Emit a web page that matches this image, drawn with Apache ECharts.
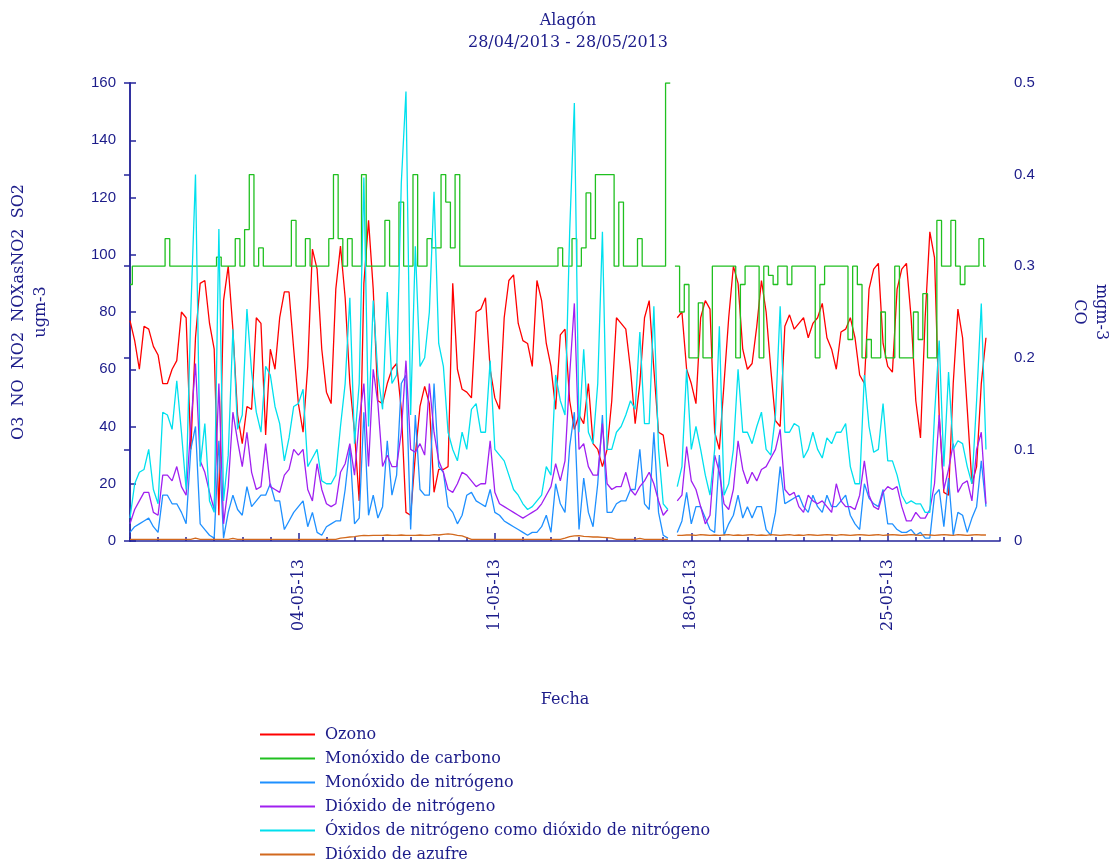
<!DOCTYPE html>
<html>
<head>
<meta charset="utf-8">
<script src="https://cdn.jsdelivr.net/npm/echarts@6/dist/echarts.min.js"></script>
<style>html,body{margin:0;padding:0;background:#fff;}#c{width:1120px;height:867px;}</style>
</head>
<body>
<div id="c"></div>
<script>
// Readings sampled every 4 hours starting 28-04-2013 00:00
const stepDays = 4 / 24;
const seriesNames = ['Ozono', 'Monóxido de carbono', 'Monóxido de nitrógeno', 'Dióxido de nitrógeno', 'Óxidos de nitrógeno como dióxido de nitrógeno', 'Dióxido de azufre'];
const xTickDays = [6, 13, 20, 27];
const xTickLabels = ['04-05-13', '11-05-13', '18-05-13', '25-05-13'];

const ozono = [
77,70,60,75,74,68, 65,55,55,60,63,80, 78,32,71,90,91,76, 67,9,84,96,74,44,
34,47,46,78,76,37, 67,60,78,87,87,67, 48,38,61,102,95,67, 52,48,88,103,85,55,
38,14,90,112,88,49, 48,55,60,62,46,10, 9,30,47,54,48,17, 25,25,26,90,60,53,
52,50,80,81,85,60, 50,46,78,91,93,76, 70,69,61,91,84,69, 61,46,72,74,49,39,
44,41,55,34,32,26, 32,49,78,76,74,60, 41,55,78,84,60,38, 37,26,null,78,80,60,
55,48,78,84,81,38, 32,55,78,96,90,67, 60,62,75,91,80,60, 42,40,75,79,74,76,
78,71,76,78,83,71, 67,60,73,74,78,71, 58,55,88,95,97,69, 61,59,88,95,97,78,
49,36,78,108,99,44, 17,16,55,81,71,46, 20,26,55,71
];
const co = [
0.28,0.3,0.3,0.3,0.3,0.3, 0.3,0.3,0.33,0.3,0.3,0.3, 0.3,0.3,0.3,0.3,0.3,0.3, 0.3,0.31,0.3,0.3,0.3,0.33,
0.3,0.34,0.4,0.3,0.32,0.3, 0.3,0.3,0.3,0.3,0.3,0.35, 0.3,0.3,0.33,0.3,0.3,0.3, 0.3,0.33,0.4,0.33,0.3,0.33,
0.3,0.3,0.4,0.3,0.3,0.3, 0.3,0.35,0.3,0.3,0.37,0.3, 0.3,0.4,0.3,0.3,0.33,0.32, 0.32,0.4,0.37,0.32,0.4,0.3,
0.3,0.3,0.3,0.3,0.3,0.3, 0.3,0.3,0.3,0.3,0.3,0.3, 0.3,0.3,0.3,0.3,0.3,0.3, 0.3,0.3,0.32,0.3,0.3,0.33,
0.3,0.32,0.38,0.33,0.4,0.4, 0.4,0.4,0.3,0.37,0.3,0.3, 0.3,0.33,0.3,0.3,0.3,0.3, 0.3,0.5,null,0.3,0.25,0.28,
0.2,0.2,0.26,0.2,0.2,0.3, 0.3,0.3,0.3,0.3,0.2,0.28, 0.3,0.3,0.3,0.2,0.3,0.29, 0.28,0.3,0.3,0.28,0.3,0.3,
0.3,0.3,0.3,0.2,0.28,0.3, 0.3,0.3,0.3,0.3,0.22,0.3, 0.28,0.2,0.22,0.2,0.2,0.25, 0.2,0.2,0.3,0.2,0.2,0.2,
0.25,0.22,0.27,0.2,0.2,0.35, 0.3,0.3,0.35,0.3,0.28,0.3, 0.3,0.3,0.33,0.3
];
const no = [
3,5,6,7,8,5, 3,16,16,13,13,10, 6,32,40,6,4,2, 1,35,1,10,16,11,
9,19,12,14,16,16, 20,14,14,4,7,10, 12,14,5,10,3,2, 5,6,7,7,18,33,
6,8,45,9,16,8, 12,35,16,23,55,58, 4,44,18,16,16,55, 26,24,12,10,6,9,
16,17,14,13,12,18, 10,9,7,6,5,4, 3,2,3,3,5,9, 3,20,13,10,33,45,
4,22,10,5,20,44, 10,10,13,14,14,18, 18,32,13,11,38,10, 2,1,null,3,7,17,
6,12,12,8,4,3, 30,2,6,9,16,8, 12,8,12,12,4,2, 10,26,13,14,15,16,
12,10,16,12,10,16, 12,12,14,16,9,6, 4,20,15,13,12,18, 6,6,4,3,3,4,
2,3,1,1,16,18, 5,22,2,10,9,3, 8,12,28,12
];
const no2 = [
6,11,14,17,17,10, 9,23,23,21,26,19, 16,40,62,28,24,17, 11,55,6,19,45,35,
26,38,24,18,19,34, 19,18,17,23,25,32, 30,32,18,14,27,18, 13,12,13,24,27,34,
23,42,55,26,60,48, 26,30,26,26,38,63, 32,31,34,30,55,38, 28,24,18,17,20,24,
23,21,19,20,20,35, 17,13,12,11,10,9, 8,9,10,11,13,16, 19,27,21,28,58,83,
32,34,26,23,23,41, 20,18,19,19,24,18, 16,19,21,24,20,14, 9,11,null,14,16,33,
21,18,12,6,9,30, 24,13,11,18,35,25, 20,24,21,25,26,29, 32,39,18,16,17,12,
10,16,14,13,14,12, 10,20,14,12,12,11, 16,28,16,12,11,17, 19,18,19,12,7,7,
10,8,8,11,20,44, 18,25,34,17,20,21, 14,32,38,13
];
const nox = [
8,20,24,25,32,18, 13,45,44,39,56,38, 18,80,128,26,41,14, 10,109,14,30,74,39,
44,81,59,45,38,61, 58,47,41,28,36,47, 48,53,26,29,32,21, 20,20,23,40,55,85,
34,55,127,40,84,58, 46,87,55,58,125,157, 44,103,61,64,80,122, 69,61,38,32,28,38,
32,46,48,38,38,63, 32,30,28,23,18,16, 13,11,12,14,16,26, 23,58,49,44,108,153,
38,67,38,34,55,108, 32,32,38,40,44,49, 46,73,41,41,82,32, 13,11,null,19,26,60,
32,40,32,23,16,32, 75,16,20,32,60,38, 38,34,40,45,32,30, 44,82,38,38,41,40,
29,32,38,32,29,36, 34,38,38,41,26,20, 20,58,40,31,32,48, 28,28,23,16,13,14,
13,13,10,10,44,70, 26,59,32,35,34,26, 20,49,83,32
];
const so2 = [
0.6,0.6,0.6,0.6,0.6,0.6, 0.6,0.6,0.6,0.6,0.6,0.6, 0.6,0.6,1.0,0.6,0.6,0.6, 0.6,0.6,0.6,0.6,0.9,0.6,
0.6,0.6,0.6,0.6,0.6,0.6, 0.6,0.6,0.6,0.6,0.6,0.6, 0.6,0.6,0.6,0.6,0.6,0.6, 0.6,0.6,0.6,1.0,1.2,1.4,
1.5,1.8,2.0,1.9,2.0,2.0, 2.0,2.1,2.0,2.0,2.1,2.0, 2.0,2.0,2.1,2.0,2.0,2.2, 2.1,2.3,2.5,2.3,2.0,1.8,
1.2,0.6,0.6,0.6,0.6,0.6, 0.6,0.6,0.6,0.6,0.6,0.6, 0.6,0.6,0.6,0.6,0.6,0.6, 0.6,0.6,0.6,1.0,1.5,1.8,
1.9,1.6,1.5,1.4,1.4,1.3, 1.2,1.0,0.6,0.6,0.6,0.6, 0.6,0.9,0.6,0.6,0.6,0.6, 0.6,0.6,null,2.0,2.0,2.1,
2.1,2.0,2.2,2.1,2.0,2.1, 2.0,2.1,2.2,2.0,2.1,2.0, 2.1,2.2,2.0,2.1,2.0,2.2, 2.1,2.0,2.1,2.2,2.0,2.1,
2.0,2.2,2.1,2.0,2.1,2.2, 2.1,2.0,2.2,2.1,2.0,2.1, 2.2,2.1,2.0,2.1,2.2,2.0, 2.1,2.2,2.1,2.0,2.1,2.2,
2.1,2.0,2.2,2.1,2.0,2.1, 2.2,2.1,2.0,2.2,2.1,2.0, 2.1,2.2,2.1,2.1
];

const seriesColors = ['#ff0000', '#20c020', '#1e90ff', '#a020f0', '#00e0ee', '#d2691e'];
const navy = '#25259a';
const textNavy = '#1c1c8a';
const serif = 'DejaVu Serif';
const sans = 'Liberation Sans';

function pairs(arr) { return arr.map((v, i) => [i * stepDays, v]); }

const chart = echarts.init(document.getElementById('c'), null, { renderer: 'canvas' });
const dataSets = [ozono, co, no, no2, nox, so2];

chart.setOption({
  animation: false,
  backgroundColor: '#ffffff',
  title: {
    text: 'Alagón',
    subtext: '28/04/2013 - 28/05/2013',
    left: 563, top: 8, textAlign: 'center', itemGap: 6,
    textStyle: { fontFamily: serif, fontSize: 16, fontWeight: 'normal', color: textNavy },
    subtextStyle: { fontFamily: serif, fontSize: 16, color: textNavy }
  },
  legend: {
    orient: 'vertical', left: 260, top: 725, height: 200, padding: 0,
    icon: 'rect', itemWidth: 55, itemHeight: 2, itemGap: 5,
    textStyle: { fontFamily: serif, fontSize: 16, color: textNavy, lineHeight: 19, padding: [0, 0, 0, 5] },
    data: seriesNames
  },
  grid: { left: 128, right: 115, top: 83, bottom: 326, containLabel: false },
  xAxis: [{
    type: 'value', min: 0, max: 31, interval: 1,
    name: 'Fecha', nameLocation: 'middle', nameGap: 151,
    nameTextStyle: { fontFamily: serif, fontSize: 16, color: textNavy },
    axisLine: { show: true, lineStyle: { color: navy, width: 1.5 } },
    axisTick: { show: true, inside: true, length: 4, lineStyle: { color: navy, width: 1.5 } },
    axisLabel: {
      show: true, rotate: 90, margin: 18, customValues: xTickDays,
      fontFamily: serif, fontSize: 16, color: textNavy,
      formatter: v => { const k = xTickDays.indexOf(Math.round(v)); return k >= 0 ? xTickLabels[k] : ''; }
    },
    splitLine: { show: false }
  }, {
    type: 'value', min: 0, max: 31, position: 'bottom',
    axisLine: { show: false },
    axisTick: { show: true, inside: true, length: 8, customValues: xTickDays, lineStyle: { color: navy, width: 1.5 } },
    axisLabel: { show: false },
    splitLine: { show: false }
  }],
  yAxis: [{
    type: 'value', min: 0, max: 160, interval: 20, position: 'left',
    name: 'O3  NO  NO2  NOXasNO2  SO2\nugm-3', nameLocation: 'middle', nameRotate: 90, nameGap: 78,
    nameTextStyle: { fontFamily: serif, fontSize: 16, color: textNavy, lineHeight: 22, align: 'center' },
    axisLine: { show: true, lineStyle: { color: navy, width: 1.5 } },
    axisTick: { show: true, inside: true, length: 6, lineStyle: { color: navy, width: 1.5 } },
    axisLabel: { margin: 14, fontFamily: sans, fontSize: 15, color: textNavy },
    splitLine: { show: false }
  }, {
    type: 'value', min: 0, max: 0.5, interval: 0.1, position: 'right',
    name: 'mgm-3\nCO', nameLocation: 'middle', nameRotate: -90, nameGap: 68,
    nameTextStyle: { fontFamily: serif, fontSize: 16, color: textNavy, lineHeight: 22, align: 'center' },
    axisLine: { show: true, lineStyle: { color: navy, width: 1.5 } },
    axisTick: { show: true, inside: true, length: 6, lineStyle: { color: navy, width: 1.5 } },
    axisLabel: { margin: 14, fontFamily: sans, fontSize: 15, color: textNavy,
      formatter: v => (v === 0 ? '0' : v.toFixed(1)) },
    splitLine: { show: false }
  }],
  series: seriesNames.map((name, i) => ({
    name: name,
    type: 'line',
    xAxisIndex: 0,
    yAxisIndex: i === 1 ? 1 : 0,
    data: pairs(dataSets[i]),
    step: i === 1 ? 'middle' : false,
    showSymbol: false,
    symbol: 'none',
    connectNulls: false,
    lineStyle: { color: seriesColors[i], width: 1.3 },
    itemStyle: { color: seriesColors[i] },
    emphasis: { disabled: true }
  }))
});
</script>
</body>
</html>
